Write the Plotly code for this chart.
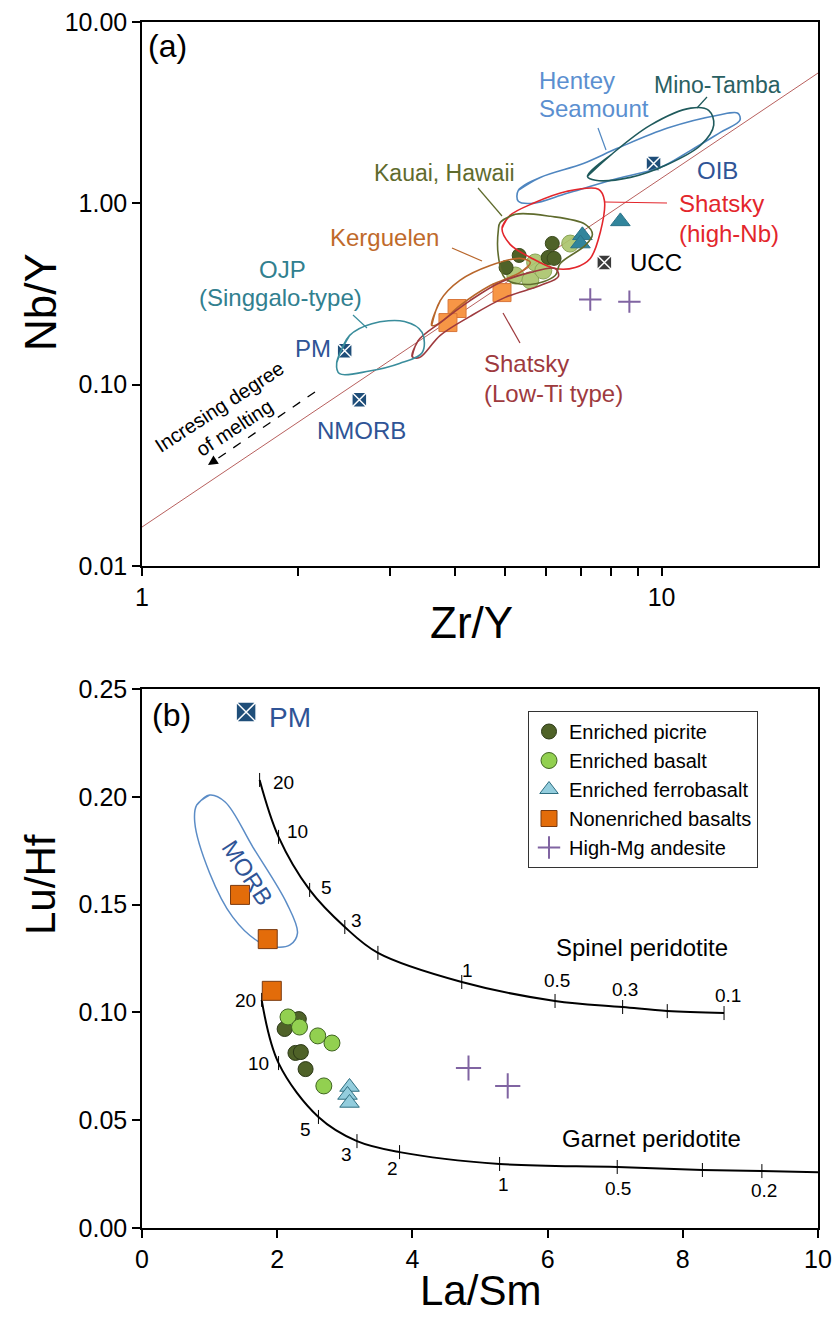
import numpy as np
import plotly.graph_objects as go

W, H = 835, 1320
ML, MR, MT, MB = 142, 17, 22, 92
PW = W - ML - MR
PH = H - MT - MB
FONT = "Arial, Liberation Sans, sans-serif"

# ---------------- Panel (a): Nb/Y vs Zr/Y ----------------
a_picrite_zr_y = [5.02, 5.32, 6.16, 6.05, 6.21]
a_picrite_nb_y = [0.443, 0.516, 0.601, 0.503, 0.497]
a_basalt_zr_y = [5.23, 5.71, 5.59, 5.92, 6.67]
a_basalt_nb_y = [0.40, 0.472, 0.376, 0.426, 0.60]
a_ferro_zr_y = [7.04, 6.98, 8.33]
a_ferro_nb_y = [0.666, 0.60, 0.795]
a_nonenr_zr_y = [4.04, 3.88, 4.93]
a_nonenr_nb_y = [0.263, 0.220, 0.322]
a_hmga_zr_y = [7.29, 8.67]
a_hmga_nb_y = [0.295, 0.287]

ref_names = ["PM", "NMORB", "OIB", "UCC"]
ref_zr_y = [2.455, 2.62, 9.65, 7.76]
ref_nb_y = [0.154, 0.0826, 1.66, 0.472]

delta_nb_zr_y = [1, 20]
delta_nb_nb_y = [0.0164, 5.23]

hentey_zr_y = [5.30, 5.84, 7.07, 8.22, 10.27, 12.83, 14.02, 14.15, 13.0, 11.38, 9.95, 8.22, 6.58, 5.66, 5.30]
hentey_nb_y = [1.18, 1.39, 1.66, 2.01, 2.60, 3.06, 3.14, 2.87, 2.47, 1.96, 1.58, 1.37, 1.136, 1.0, 1.026]
mino_zr_y = [7.20, 7.97, 9.52, 11.38, 12.32, 12.60, 11.89, 10.18, 8.71, 7.46]
mino_nb_y = [1.41, 1.84, 2.70, 3.35, 3.26, 2.70, 2.09, 1.62, 1.39, 1.34]
shatsky_hnb_zr_y = [4.93, 5.11, 5.66, 6.58, 7.56, 7.76, 7.62, 7.29, 6.82, 6.24, 5.59, 5.11]
shatsky_hnb_nb_y = [0.727, 0.858, 1.0, 1.165, 1.195, 1.04, 0.691, 0.497, 0.443, 0.437, 0.503, 0.594]
kauai_zr_y = [4.89, 5.23, 6.11, 7.13, 7.36, 7.13, 6.38, 6.24, 5.59, 5.0, 4.85, 4.85]
kauai_nb_y = [0.785, 0.870, 0.848, 0.766, 0.674, 0.586, 0.466, 0.40, 0.357, 0.385, 0.516, 0.709]
kerg_zr_y = [3.61, 3.75, 4.09, 4.68, 5.34, 5.59, 5.34, 4.68, 4.09, 3.75]
kerg_nb_y = [0.212, 0.291, 0.376, 0.454, 0.497, 0.472, 0.416, 0.352, 0.273, 0.220]
shatsky_lti_zr_y = [3.31, 3.40, 3.75, 4.28, 4.89, 5.59, 6.24, 6.33, 5.84, 5.0, 4.28, 3.75, 3.42]
shatsky_lti_nb_y = [0.143, 0.175, 0.220, 0.291, 0.366, 0.416, 0.437, 0.395, 0.352, 0.303, 0.238, 0.187, 0.141]
ojp_zr_y = [2.37, 2.51, 2.77, 3.20, 3.46, 3.46, 3.13, 2.74, 2.40]
ojp_nb_y = [0.132, 0.187, 0.217, 0.223, 0.194, 0.150, 0.131, 0.119, 0.115]

# ---------------- Panel (b): Lu/Hf vs La/Sm ----------------
b_picrite_la_sm = [2.11, 2.32, 2.27, 2.35, 2.42]
b_picrite_lu_hf = [0.0923, 0.0969, 0.0812, 0.0816, 0.0737]
b_basalt_la_sm = [2.16, 2.33, 2.60, 2.81, 2.69]
b_basalt_lu_hf = [0.0979, 0.0932, 0.0891, 0.0858, 0.0659]
b_ferro_la_sm = [3.07, 3.04, 3.07]
b_ferro_lu_hf = [0.0654, 0.0617, 0.058]
b_nonenr_la_sm = [1.45, 1.86, 1.92]
b_nonenr_lu_hf = [0.1545, 0.134, 0.110]
b_hmga_la_sm = [4.83, 5.41]
b_hmga_lu_hf = [0.0742, 0.0659]
pm_la_sm = [1.54]
pm_lu_hf = [0.2393]

spinel_melt = ["20", "10", "5", "3", "", "1", "0.5", "0.3", "", "0.1"]
spinel_la_sm = [1.74, 2.02, 2.48, 3.0, 3.49, 4.73, 6.11, 7.11, 7.77, 8.61]
spinel_lu_hf = [0.2078, 0.1814, 0.1568, 0.1396, 0.1276, 0.1141, 0.1053, 0.1025, 0.1006, 0.0997]
garnet_melt = ["20", "10", "5", "3", "2", "1", "0.5", "", "0.2"]
garnet_la_sm = [1.77, 2.02, 2.61, 3.18, 3.81, 5.29, 7.03, 8.29, 9.17]
garnet_lu_hf = [0.1058, 0.0765, 0.0515, 0.0403, 0.0352, 0.0297, 0.0283, 0.0269, 0.0264]
garnet_end_la_sm = [10.0]
garnet_end_lu_hf = [0.0259]

morb_la_sm = [0.81, 1.00, 1.23, 1.64, 2.14, 2.30, 2.19, 1.97, 1.71, 1.34, 1.00, 0.78]
morb_lu_hf = [0.1962, 0.2008, 0.1976, 0.1767, 0.1507, 0.1368, 0.1313, 0.1303, 0.1331, 0.1443, 0.1647, 0.1883]


def px(x):
    return (x - ML) / PW


def py(y):
    return (H - MB - y) / PH


fig = go.Figure()


def pts(x, y, xa, ya, name, symbol, size, color, lcolor, lw=1, show=False, opacity=1):
    fig.add_trace(go.Scatter(x=x, y=y, mode="markers", name=name, xaxis=xa, yaxis=ya,
                             showlegend=show, opacity=opacity,
                             marker=dict(symbol=symbol, size=size, color=color,
                                         line=dict(color=lcolor, width=lw))))


def contour(x, y, color, xa="x", ya="y", w=1.6):
    # close the outline: wrap around past the first vertex so the spline joins smoothly
    xs = list(x) + list(x[:2])
    ys = list(y) + list(y[:2])
    fig.add_trace(go.Scatter(x=xs, y=ys, mode="lines", xaxis=xa, yaxis=ya, showlegend=False,
                             hoverinfo="skip",
                             line=dict(color=color, width=w, shape="spline", smoothing=1.0)))


# ----- panel (a) traces
fig.add_trace(go.Scatter(x=delta_nb_zr_y, y=delta_nb_nb_y, mode="lines", xaxis="x", yaxis="y",
                         showlegend=False, line=dict(color="#B8605E", width=1)))
pts(a_nonenr_zr_y, a_nonenr_nb_y, "x", "y", "a_nonenr", "square", 18, "#F79646", "#D9773A")
pts(a_basalt_zr_y, a_basalt_nb_y, "x", "y", "a_basalt", "circle", 17, "#A9C46A", "#7E9A45", opacity=0.9)
pts(a_picrite_zr_y, a_picrite_nb_y, "x", "y", "a_picrite", "circle", 14, "#4F6228", "#3A4A1C")
pts(a_ferro_zr_y, a_ferro_nb_y, "x", "y", "a_ferro", "triangle-up", 17, "#31859C", "#2A7389")
pts(a_hmga_zr_y, a_hmga_nb_y, "x", "y", "a_hmga", "cross-thin", 16, "#8064A2", "#8064A2", lw=2)
pts(ref_zr_y[:3], ref_nb_y[:3], "x", "y", "refs", "square-x", 15, "#1F4E79", "white", lw=1.5)
pts(ref_zr_y[3:], ref_nb_y[3:], "x", "y", "ucc", "square-x", 15, "#3A3A3A", "white", lw=1.5)

contour(hentey_zr_y, hentey_nb_y, "#4F86C0")
contour(mino_zr_y, mino_nb_y, "#1F5A5C")
contour(shatsky_hnb_zr_y, shatsky_hnb_nb_y, "#E3262C")
contour(kauai_zr_y, kauai_nb_y, "#5F6B2D")
contour(kerg_zr_y, kerg_nb_y, "#B8662B")
contour(shatsky_lti_zr_y, shatsky_lti_nb_y, "#9E3A3E")
contour(ojp_zr_y, ojp_nb_y, "#3A8D9C")

# ----- panel (b) traces
contour(morb_la_sm, morb_lu_hf, "#5B8CC6", "x2", "y2", 1.5)
fig.add_trace(go.Scatter(x=spinel_la_sm, y=spinel_lu_hf, mode="lines+markers", xaxis="x2", yaxis="y2",
                         showlegend=False, line=dict(color="black", width=2, shape="spline"),
                         marker=dict(symbol="line-ns", size=10, line=dict(color="black", width=1))))
fig.add_trace(go.Scatter(x=garnet_la_sm + garnet_end_la_sm, y=garnet_lu_hf + garnet_end_lu_hf,
                         mode="lines", xaxis="x2", yaxis="y2", showlegend=False,
                         line=dict(color="black", width=2, shape="spline")))
fig.add_trace(go.Scatter(x=garnet_la_sm, y=garnet_lu_hf, mode="markers", xaxis="x2", yaxis="y2",
                         showlegend=False,
                         marker=dict(symbol="line-ns", size=10, line=dict(color="black", width=1))))

pts(b_picrite_la_sm, b_picrite_lu_hf, "x2", "y2", "Enriched picrite", "circle", 15, "#4F6228", "#2B3816", show=True)
pts(b_basalt_la_sm, b_basalt_lu_hf, "x2", "y2", "Enriched basalt", "circle", 16, "#92D050", "#3F6420", show=True)
pts(b_ferro_la_sm, b_ferro_lu_hf, "x2", "y2", "Enriched ferrobasalt", "triangle-up", 17, "#93CDDD", "#2E6E80", show=True)
pts(b_nonenr_la_sm, b_nonenr_lu_hf, "x2", "y2", "Nonenriched basalts", "square", 19, "#E36C0A", "#7A3A10", show=True)
pts(b_hmga_la_sm, b_hmga_lu_hf, "x2", "y2", "High-Mg andesite", "cross-thin", 18, "#8064A2", "#8064A2", lw=2, show=True)
pts(pm_la_sm, pm_lu_hf, "x2", "y2", "PM_b", "square-x", 20, "#1F4E79", "white", lw=1.5)

# ----- annotations
def label(text, x, y, color="black", size=24, xanchor="left", angle=0):
    fig.add_annotation(text=text, x=px(x), y=py(y), xref="paper", yref="paper", showarrow=False,
                       font=dict(color=color, size=size, family=FONT), xanchor=xanchor,
                       yanchor="middle", textangle=angle)


def leader(x0, y0, x1, y1, color):
    fig.add_shape(type="line", xref="paper", yref="paper", x0=px(x0), y0=py(y0), x1=px(x1), y1=py(y1),
                  line=dict(color=color, width=1.2))


label("(a)", 146, 46, size=32)
label("Hentey", 537, 80, "#5B8FD0")
label("Seamount", 537, 108, "#5B8FD0")
label("Mino-Tamba", 652, 85, "#2A6062", size=23)
label("OIB", 695, 170, "#2F5496")
label("Shatsky", 677, 203, "#E3262C")
label("(high-Nb)", 677, 233, "#E3262C")
label("UCC", 628, 262, "black")
label("Kauai, Hawaii", 372, 173, "#5F6B2D", size=23)
label("Kerguelen", 328, 237, "#C06A2B")
label("OJP", 282, 269, "#31808F", xanchor="center")
label("(Singgalo-type)", 197, 298, "#31808F")
label("PM", 293, 348, "#2F5496")
label("NMORB", 315, 431, "#2F5496")
label("Shatsky", 482, 363, "#9E3A3E")
label("(Low-Ti type)", 482, 393, "#9E3A3E")
label("Incresing degree", 219, 407, "black", size=20, xanchor="center", angle=-33)
label("of melting", 234, 428, "black", size=20, xanchor="center", angle=-33)

leader(598, 128, 606, 150, "#4F86C0")
leader(707, 97, 697, 108, "#1F5A5C")
leader(605, 202, 667, 203, "#E3262C")
leader(478, 188, 502, 216, "#5F6B2D")
leader(452, 248, 482, 261, "#B8662B")
leader(503, 313, 520, 343, "#9E3A3E")
leader(353, 315, 367, 328, "#3A8D9C")

fig.add_shape(type="line", xref="paper", yref="paper", x0=px(315), y0=py(392), x1=px(214), y1=py(461),
              line=dict(color="black", width=1.3, dash="dash"))
fig.add_annotation(x=px(208), y=py(465), xref="paper", yref="paper", ax=9, ay=-6, text="",
                   showarrow=True, arrowhead=2, arrowsize=1.3, arrowwidth=1.5, arrowcolor="black")

label("Nb/Y", 40, 302, size=44, xanchor="center", angle=-90)
label("Zr/Y", 471, 622, size=44, xanchor="center")

label("(b)", 150, 715, size=32)
label("PM", 267, 717, "#2F5496", size=28)
label("MORB", 247, 873, "#2F5496", size=24, xanchor="center", angle=57)
label("Spinel peridotite", 642, 948, size=24, xanchor="center")
label("Garnet peridotite", 651, 1138, size=24, xanchor="center")

sp_lab_pos = [(283, 782), (297, 832), (326, 888), (356, 920), None, (467, 970), (557, 980), (625, 989), None, (728, 995)]
for t, p in zip(spinel_melt, sp_lab_pos):
    if p and t:
        label(t, p[0], p[1], size=19, xanchor="center")
ga_lab_pos = [(245, 1000), (258, 1063), (305, 1129), (346, 1154), (392, 1168), (503, 1184), (618, 1188), None, (764, 1190)]
for t, p in zip(garnet_melt, ga_lab_pos):
    if p and t:
        label(t, p[0], p[1], size=19, xanchor="center")

label("Lu/Hf", 40, 885, size=42, xanchor="center", angle=-90)
label("La/Sm", 481, 1290, size=42, xanchor="center")

ya0 = (H - MB - 566) / PH
yb1 = (H - MB - 689) / PH

axis_common = dict(showline=True, linecolor="black", linewidth=1.5, mirror=True, showgrid=False,
                   zeroline=False, ticks="outside", ticklen=8, tickwidth=1.5, tickcolor="black",
                   automargin=False,
                   tickfont=dict(size=25, color="black", family=FONT))

fig.update_layout(
    width=W, height=H, margin=dict(l=ML, r=MR, t=MT, b=MB, autoexpand=False),
    paper_bgcolor="white", plot_bgcolor="white",
    font=dict(family=FONT, color="black", size=20),
    xaxis=dict(type="log", range=[0, np.log10(20)], domain=[0, 1], anchor="y",
               tickvals=[1, 10], ticktext=["1", "10"],
               minor=dict(tickvals=[2, 3, 4, 5, 6, 7, 8, 9], ticks="outside", ticklen=8,
                          tickwidth=1.5, tickcolor="black", showgrid=False),
               **axis_common),
    yaxis=dict(type="log", range=[-2, 1], domain=[ya0, 1], anchor="x",
               tickvals=[0.01, 0.1, 1, 10], ticktext=["0.01", "0.10", "1.00", "10.00"],
               **axis_common),
    xaxis2=dict(range=[0, 10], domain=[0, 1], anchor="y2", tick0=0, dtick=2, **axis_common),
    yaxis2=dict(range=[0, 0.25], domain=[0, yb1], anchor="x2", tick0=0, dtick=0.05,
                tickformat=".2f", **axis_common),
    legend=dict(x=px(528), y=py(711), xanchor="left", yanchor="top", bgcolor="white",
                bordercolor="#333", borderwidth=1, font=dict(size=20, family=FONT, color="black"),
                tracegroupgap=0, itemwidth=30),
    showlegend=True,
)

fig.write_html("out.html", config={"displayModeBar": False},
               post_script="document.body.style.margin='0';document.body.style.padding='0';")
